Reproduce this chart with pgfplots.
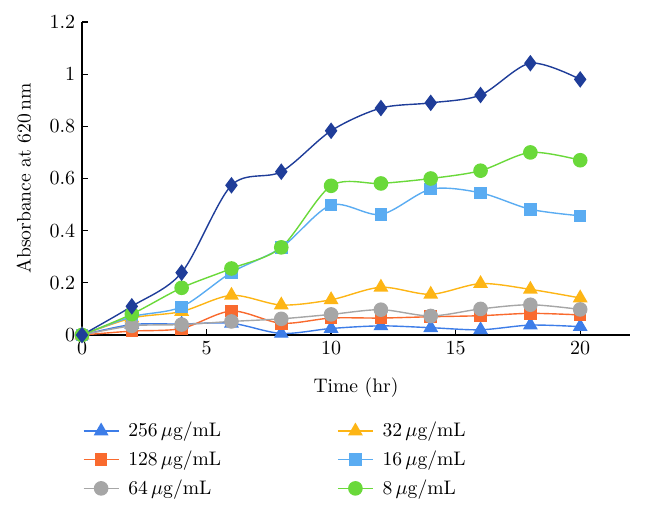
\documentclass[border=0pt]{standalone}
\usepackage{pgfplots}
\pgfplotsset{compat=1.18}
\usepackage{fontspec}
\definecolor{cnavy}{HTML}{1F3D99}
\definecolor{cgreen}{HTML}{6AD93A}
\definecolor{clblue}{HTML}{5AACF2}
\definecolor{cgold}{HTML}{FDB515}
\definecolor{cgray}{HTML}{A6A6A6}
\definecolor{corange}{HTML}{F96A2E}
\definecolor{cblue}{HTML}{3D7DE8}
\begin{document}
\fontsize{9.8pt}{11.5pt}\selectfont
\begin{tikzpicture}
\useasboundingbox (0,0) rectangle (323pt,257pt);
\begin{axis}[
  at={(41pt,89.5pt)}, anchor=south west,
  scale only axis, width=274pt, height=156.5pt,
  xmin=0, xmax=22, ymin=0, ymax=1.2,
  xtick={0,5,10,15,20}, ytick={0,0.2,...,1.2},
  axis lines*=left, tick align=inside, major tick length=3pt,
  axis line style={line width=0.65pt}, tick style={line width=0.6pt, black},
  tick label style={font=\fontsize{9.8pt}{11.5pt}\selectfont},
  label style={font=\fontsize{9.8pt}{11.5pt}\selectfont},
  xlabel={Time (hr)}, ylabel={Absorbance at 620\,nm},
  xlabel style={at={(0.5,-0.115)}, anchor=north},
  ylabel style={at={(-0.106,0.5)}, anchor=center},
  clip=false,
  every axis plot/.append style={smooth, tension=0.5, line width=0.7pt},
  legend style={draw=none, fill=none, at={(-0.01,-0.252)}, anchor=north west,
    font=\fontsize{9.8pt}{11.5pt}\selectfont,
    row sep=1.5pt,
    /tikz/column 1/.style={column sep=2.5pt},
    /tikz/column 3/.style={column sep=2.5pt},
    /tikz/column 2/.style={column sep=56pt}},
  legend columns=2, legend cell align=left,
  legend image code/.code={\draw[mark repeat=2,mark phase=2,#1] plot coordinates {(0pt,0pt) (8.75pt,0pt) (17.5pt,0pt)};},
]
\addplot[color=cblue, mark=triangle*, mark size=3.6pt, mark options={solid}] coordinates {(0,0) (2,0.04) (4,0.042) (6,0.045) (8,0.006) (10,0.025) (12,0.035) (14,0.028) (16,0.02) (18,0.038) (20,0.032)};
\addlegendentry{256\,$\mu$g/mL}
\addplot[color=cgold, mark=triangle*, mark size=3.6pt] coordinates {(0,0) (2,0.065) (4,0.09) (6,0.152) (8,0.115) (10,0.135) (12,0.183) (14,0.156) (16,0.197) (18,0.175) (20,0.142)};
\addlegendentry{32\,$\mu$g/mL}
\addplot[color=corange, mark=square*, mark size=2.8pt] coordinates {(0,0) (2,0.015) (4,0.025) (6,0.092) (8,0.045) (10,0.065) (12,0.065) (14,0.07) (16,0.074) (18,0.083) (20,0.077)};
\addlegendentry{128\,$\mu$g/mL}
\addplot[color=clblue, mark=square*, mark size=2.8pt] coordinates {(0,0) (2,0.07) (4,0.108) (6,0.24) (8,0.335) (10,0.498) (12,0.462) (14,0.559) (16,0.545) (18,0.482) (20,0.457)};
\addlegendentry{16\,$\mu$g/mL}
\addplot[color=cgray, mark=*, mark size=3.3pt] coordinates {(0,0) (2,0.035) (4,0.04) (6,0.052) (8,0.062) (10,0.079) (12,0.097) (14,0.073) (16,0.1) (18,0.116) (20,0.098)};
\addlegendentry{64\,$\mu$g/mL}
\addplot[color=cgreen, mark=*, mark size=3.3pt] coordinates {(0,0) (2,0.08) (4,0.181) (6,0.255) (8,0.336) (10,0.572) (12,0.581) (14,0.6) (16,0.63) (18,0.7) (20,0.67)};
\addlegendentry{8\,$\mu$g/mL}
\addplot[color=cnavy, mark=diamond*, mark size=3.6pt, forget plot] coordinates {(0,0) (2,0.11) (4,0.239) (6,0.574) (8,0.626) (10,0.783) (12,0.87) (14,0.89) (16,0.92) (18,1.042) (20,0.98)};
\end{axis}
\end{tikzpicture}
\end{document}
